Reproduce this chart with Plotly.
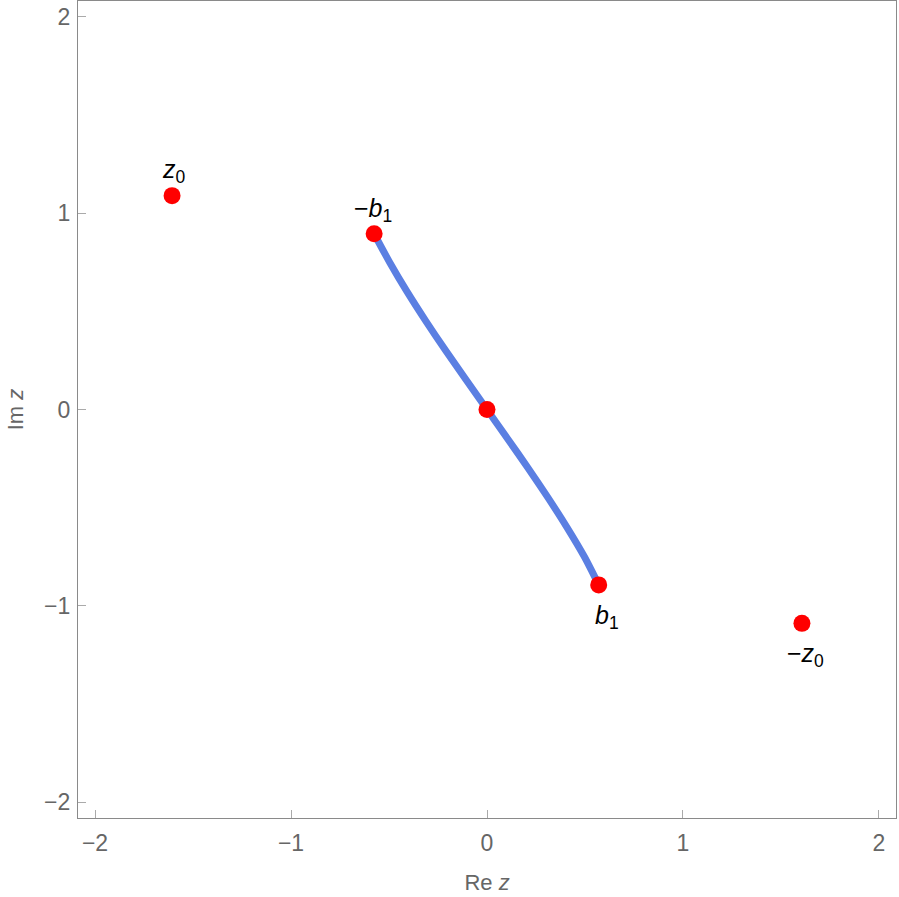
import plotly.graph_objects as go

# Curve from -b1 through 0 to b1
curve_x = [-0.576, -0.497, -0.408, -0.312, -0.211, -0.106, 0.0, 0.106, 0.211, 0.312, 0.408, 0.497, 0.570]
curve_y = [0.895, 0.75, 0.60, 0.45, 0.30, 0.15, 0.0, -0.15, -0.30, -0.45, -0.60, -0.75, -0.893]

# Marked points
pt_x = [-1.607, -0.576, 0.0, 0.570, 1.607]
pt_y = [1.089, 0.895, 0.0, -0.893, -1.089]

# Point labels
lab_text = ["<i>z</i><sub>0</sub>", "−<i>b</i><sub>1</sub>", "<i>b</i><sub>1</sub>", "−<i>z</i><sub>0</sub>"]
lab_x = [-1.607, -0.576, 0.570, 1.607]
lab_y = [1.089, 0.895, -0.893, -1.089]
lab_shift = [25, 24, -32, -32]
lab_xshift = [2, -1, 8, 4]

ticks = [-2, -1, 0, 1, 2]
tick_text = ["−2", "−1", "0", "1", "2"]

FONT = "Liberation Sans, Arial"
GRAY = "#666666"

fig = go.Figure()
fig.add_trace(go.Scatter(x=curve_x, y=curve_y, mode="lines",
                         line=dict(color="#5B7FE2", width=7, shape="spline", smoothing=0.8),
                         hoverinfo="skip", showlegend=False))
fig.add_trace(go.Scatter(x=pt_x, y=pt_y, mode="markers",
                         marker=dict(color="#FF0000", size=17),
                         showlegend=False))

for t, x, y, s, xs in zip(lab_text, lab_x, lab_y, lab_shift, lab_xshift):
    fig.add_annotation(x=x, y=y, xref="x", yref="y", text=t, showarrow=False,
                       yshift=s, xshift=xs, font=dict(family=FONT, size=25, color="black"))

axis_common = dict(showgrid=False, zeroline=False, showline=True, mirror=True,
                   linecolor="#8a8a8a", linewidth=1.3, ticks="inside", ticklen=8,
                   tickcolor="#aaaaaa", tickwidth=1, automargin=False,
                   tickvals=ticks, ticktext=tick_text,
                   tickfont=dict(family=FONT, size=23, color=GRAY))

fig.update_xaxes(range=[-2.087, 2.087], ticklabelstandoff=4,
                 title=dict(text="Re <i>z</i>", standoff=19,
                            font=dict(family=FONT, size=22, color=GRAY)),
                 **axis_common)
fig.update_yaxes(range=[-2.08, 2.08], ticklabelstandoff=2,
                 title=dict(text="Im <i>z</i>", standoff=14,
                            font=dict(family=FONT, size=22, color=GRAY)),
                 **axis_common)

fig.update_layout(width=899, height=897, plot_bgcolor="white", paper_bgcolor="white",
                  margin=dict(l=78, r=3, t=1, b=79), showlegend=False)

fig.write_html("out.html", config={"displayModeBar": False},
               post_script="document.body.style.margin='0px';document.body.style.padding='0px';document.body.style.overflow='hidden';")
